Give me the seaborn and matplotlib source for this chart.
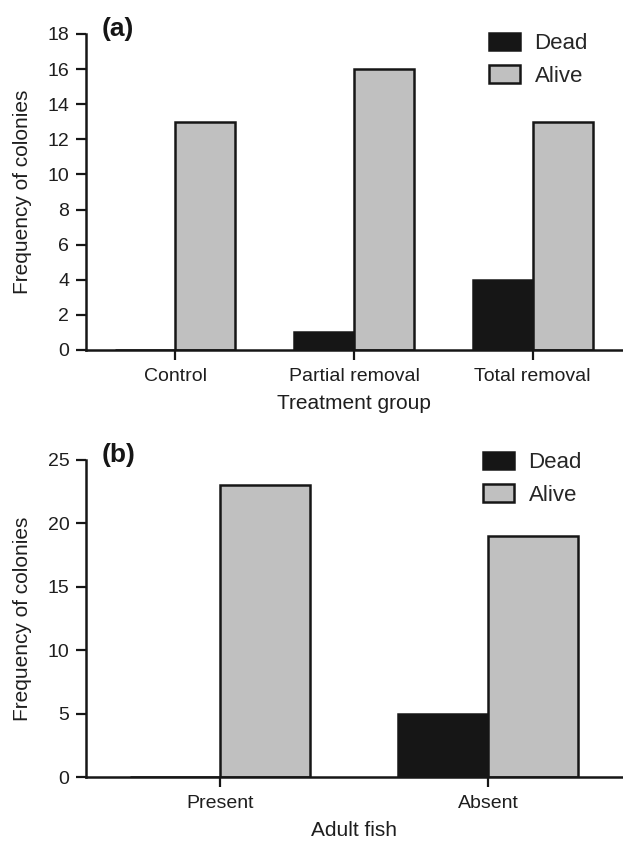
import matplotlib
matplotlib.use("Agg")
import matplotlib.pyplot as plt
import seaborn as sns
import pandas as pd

# Panel (a): colony fate by treatment group
treatments = ["Control", "Partial removal", "Total removal"]
dead_a = [0, 1, 4]
alive_a = [13, 16, 13]

# Panel (b): colony fate by presence of adult fish
fish = ["Present", "Absent"]
dead_b = [0, 5]
alive_b = [23, 19]

status_order = ["Dead", "Alive"]
palette = {"Dead": "#161616", "Alive": "#c0c0c0"}

sns.set_theme(style="ticks")
plt.rcParams["font.family"] = ["Liberation Sans", "DejaVu Sans"]

W, H = 623, 843
fig = plt.figure(figsize=(W / 100, H / 100), dpi=100)


def px_axes(left, top, right, bottom):
    return fig.add_axes([left / W, 1 - bottom / H, (right - left) / W, (bottom - top) / H])


def long_frame(cats, dead, alive):
    return pd.DataFrame({
        "group": list(cats) * 2,
        "status": ["Dead"] * len(cats) + ["Alive"] * len(cats),
        "count": list(dead) + list(alive),
    })


def draw(ax, cats, dead, alive, ymax, ystep, xlabel, tag, tag_y, leg_x, leg_top):
    df = long_frame(cats, dead, alive)
    sns.barplot(data=df, x="group", y="count", hue="status", hue_order=status_order,
                order=cats, palette=palette, edgecolor="#161616", linewidth=1.8,
                width=0.67, gap=0, errorbar=None, saturation=1, ax=ax)
    ax.set_xlim(-0.5, len(cats) - 0.5)
    ax.set_ylim(0, ymax)
    ax.set_yticks(range(0, ymax + 1, ystep))
    sns.despine(ax=ax)
    for side in ("left", "bottom"):
        ax.spines[side].set_linewidth(1.8)
        ax.spines[side].set_color("#161616")
    ax.tick_params(axis="both", length=7, width=1.6, color="#161616",
                   labelsize=14, labelcolor="#1e1e1e")
    ax.tick_params(axis="y", pad=5)
    ax.tick_params(axis="x", pad=6)
    ax.set_ylabel("Frequency of colonies", fontsize=15, color="#1e1e1e")
    ax.set_xlabel(xlabel, fontsize=15, color="#1e1e1e")
    ax.yaxis.set_label_coords(-0.119, 0.5)
    ax.yaxis.label.set_va("center")
    ax.xaxis.set_label_coords(0.5, -0.17)
    ax.xaxis.label.set_va("center")
    handles, labels = ax.get_legend_handles_labels()
    ax.legend(handles, labels, frameon=False, loc="upper left",
              bbox_to_anchor=(leg_x / W, 1 - leg_top / H), bbox_transform=fig.transFigure,
              fontsize=16, handlelength=1.4, handleheight=0.82, handletextpad=0.65,
              labelspacing=0.5, borderpad=0, borderaxespad=0)
    fig.text(102 / W, 1 - tag_y / H, tag, fontsize=19, fontweight="bold",
             va="center", ha="left", color="#161616")


ax_a = px_axes(86, 34, 622, 350)
draw(ax_a, treatments, dead_a, alive_a, 18, 2, "Treatment group", "(a)", 29, 489, 33)

ax_b = px_axes(86, 460, 622, 777)
draw(ax_b, fish, dead_b, alive_b, 25, 5, "Adult fish", "(b)", 455, 483, 452)

fig.savefig("out.png", dpi=100)
